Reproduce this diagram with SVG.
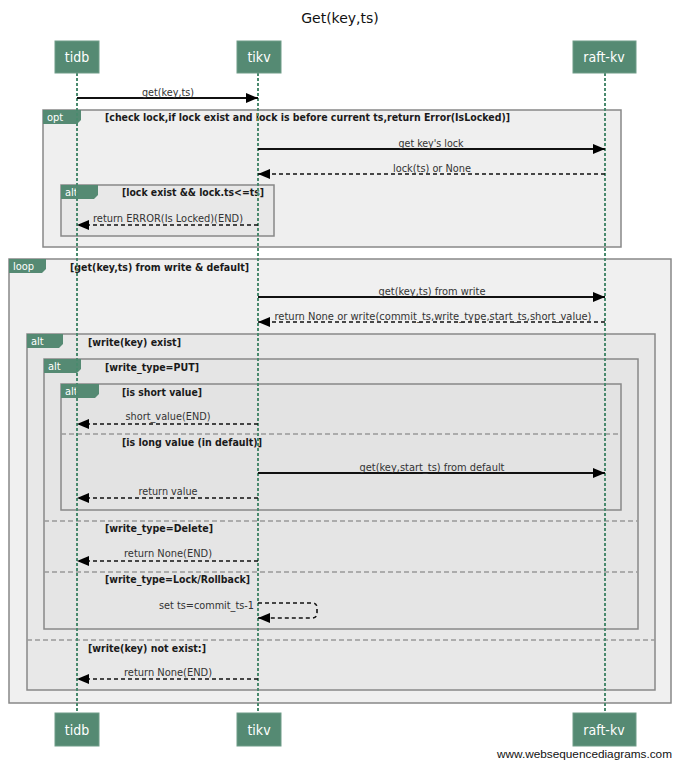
<svg xmlns="http://www.w3.org/2000/svg" width="680" height="767" viewBox="0 0 680 767">
<defs>
<style>
.bg{fill:#ffffff}
.pbox{fill:#558a73;stroke:#6f9c88;stroke-width:1}
.ptxt{font-family:"DejaVu Sans Condensed","DejaVu Sans",sans-serif;font-size:14px;fill:#ffffff;text-anchor:middle}
.life{stroke:#4a8a6e;stroke-width:2;stroke-dasharray:3,2;fill:none}
.frame{stroke:#888888;stroke-width:1.5}
.tab{fill:#558a73}
.tabtxt{font-family:"DejaVu Sans Condensed","DejaVu Sans",sans-serif;font-size:11px;fill:#ffffff}
.guard{font-family:"DejaVu Sans Condensed","DejaVu Sans",sans-serif;font-size:10.5px;font-weight:bold;fill:#1a1a1a}
.sep{stroke:#999999;stroke-width:1.5;stroke-dasharray:5,3;fill:none}
.msg{stroke:#111111;stroke-width:1.8;fill:none}
.ret{stroke:#111111;stroke-width:1.6;stroke-dasharray:4,3;fill:none}
.mtxt{font-family:"DejaVu Sans Condensed","DejaVu Sans",sans-serif;font-size:10px;fill:#333333;text-anchor:middle}
.title{font-family:"DejaVu Sans",sans-serif;font-size:14px;fill:#111111;text-anchor:middle}
.foot{font-family:"Liberation Sans",sans-serif;font-size:11px;fill:#111111;text-anchor:end}
</style>
<marker id="ah" viewBox="0 0 12 10" refX="12" refY="5" markerWidth="12" markerHeight="10" markerUnits="userSpaceOnUse" orient="auto">
<path d="M0,0 L12,5 L0,10 Z" fill="#000000"/>
</marker>
</defs>
<rect class="bg" x="0" y="0" width="680" height="767"/>
<text class="title" x="340" y="23">Get(key,ts)</text>

<g id="frames">
<g id="opt-frame">
<rect class="frame" x="43" y="110" width="578" height="137" fill="#efefef"/>
<path class="tab" d="M43,110 H81 V120 L77,124 H43 Z"/>
<text class="tabtxt" x="47" y="121">opt</text>
<text class="guard" x="105" y="121" textLength="405" lengthAdjust="spacingAndGlyphs">[check lock,if lock exist and lock is before current ts,return Error(IsLocked)]</text>
<rect class="frame" x="61" y="185" width="213" height="51" fill="#e8e8e8"/>
<path class="tab" d="M61,185 H98 V195 L94,199 H61 Z"/>
<text class="tabtxt" x="65" y="196">alt</text>
<text class="guard" x="122" y="196" textLength="142" lengthAdjust="spacingAndGlyphs">[lock exist &amp;&amp; lock.ts&lt;=ts]</text>
</g>
<g id="loop-frame">
<rect class="frame" x="9" y="259" width="662" height="444" fill="#f0f0f0"/>
<path class="tab" d="M9,259 H46 V269 L42,273 H9 Z"/>
<text class="tabtxt" x="13" y="270">loop</text>
<text class="guard" x="70" y="271" textLength="179" lengthAdjust="spacingAndGlyphs">[get(key,ts) from write &amp; default]</text>
</g>
<g id="alt-exist">
<rect class="frame" x="27" y="334" width="628" height="356" fill="#e8e8e8"/>
<path class="tab" d="M27,334 H63 V344 L59,348 H27 Z"/>
<text class="tabtxt" x="31" y="345">alt</text>
<text class="guard" x="88" y="346" textLength="93" lengthAdjust="spacingAndGlyphs">[write(key) exist]</text>
<line class="sep" x1="27" y1="640" x2="655" y2="640"/>
<text class="guard" x="88" y="652" textLength="118" lengthAdjust="spacingAndGlyphs">[write(key) not exist:]</text>
</g>
<g id="alt-type">
<rect class="frame" x="44" y="359" width="594" height="270" fill="#e5e5e5"/>
<path class="tab" d="M44,359 H81 V369 L77,373 H44 Z"/>
<text class="tabtxt" x="48" y="370">alt</text>
<text class="guard" x="105" y="371" textLength="94" lengthAdjust="spacingAndGlyphs">[write_type=PUT]</text>
<line class="sep" x1="44" y1="521" x2="638" y2="521"/>
<text class="guard" x="105" y="532" textLength="108" lengthAdjust="spacingAndGlyphs">[write_type=Delete]</text>
<line class="sep" x1="44" y1="572" x2="638" y2="572"/>
<text class="guard" x="105" y="583" textLength="145" lengthAdjust="spacingAndGlyphs">[write_type=Lock/Rollback]</text>
</g>
<g id="alt-value">
<rect class="frame" x="61" y="384" width="560" height="126" fill="#e3e3e3"/>
<path class="tab" d="M61,384 H99 V394 L95,398 H61 Z"/>
<text class="tabtxt" x="65" y="395">alt</text>
<text class="guard" x="122" y="396" textLength="80" lengthAdjust="spacingAndGlyphs">[is short value]</text>
<line class="sep" x1="61" y1="434" x2="621" y2="434"/>
<text class="guard" x="122" y="446" textLength="140" lengthAdjust="spacingAndGlyphs">[is long value (in default)]</text>
</g>
</g>

<g id="lifelines">
<line class="life" x1="77" y1="73" x2="77" y2="713"/>
<line class="life" x1="258" y1="73" x2="258" y2="713"/>
<line class="life" x1="605" y1="73" x2="605" y2="713"/>
</g>

<g id="node-tidb">
<rect class="pbox" x="55" y="41" width="44" height="32"/>
<text class="ptxt" x="77" y="62">tidb</text>
<rect class="pbox" x="55" y="713" width="44" height="33"/>
<text class="ptxt" x="77" y="735">tidb</text>
</g>
<g id="node-tikv">
<rect class="pbox" x="237" y="41" width="44" height="32"/>
<text class="ptxt" x="259" y="62">tikv</text>
<rect class="pbox" x="237" y="713" width="44" height="33"/>
<text class="ptxt" x="259" y="735">tikv</text>
</g>
<g id="node-raft-kv">
<rect class="pbox" x="573" y="41" width="63" height="32"/>
<text class="ptxt" x="604" y="62">raft-kv</text>
<rect class="pbox" x="573" y="713" width="63" height="33"/>
<text class="ptxt" x="604" y="735">raft-kv</text>
</g>

<g id="connectors">
<line class="msg" x1="77" y1="98" x2="258" y2="98" marker-end="url(#ah)"/>
<text class="mtxt" x="168" y="96" textLength="52" lengthAdjust="spacingAndGlyphs">get(key,ts)</text>

<line class="msg" x1="258" y1="149" x2="605" y2="149" marker-end="url(#ah)"/>
<text class="mtxt" x="431" y="147" textLength="65" lengthAdjust="spacingAndGlyphs">get key's lock</text>
<line class="ret" x1="605" y1="174" x2="258" y2="174" marker-end="url(#ah)"/>
<text class="mtxt" x="432" y="172" textLength="78" lengthAdjust="spacingAndGlyphs">lock(ts) or None</text>
<line class="ret" x1="258" y1="225" x2="77" y2="225" marker-end="url(#ah)"/>
<text class="mtxt" x="168" y="222" textLength="150" lengthAdjust="spacingAndGlyphs">return ERROR(Is Locked)(END)</text>

<line class="msg" x1="258" y1="297" x2="605" y2="297" marker-end="url(#ah)"/>
<text class="mtxt" x="432" y="295" textLength="107" lengthAdjust="spacingAndGlyphs">get(key,ts) from write</text>
<line class="ret" x1="605" y1="322" x2="258" y2="322" marker-end="url(#ah)"/>
<text class="mtxt" x="433" y="320" textLength="317" lengthAdjust="spacingAndGlyphs">return None or write(commit_ts,write_type,start_ts,short_value)</text>

<line class="ret" x1="258" y1="424" x2="77" y2="424" marker-end="url(#ah)"/>
<text class="mtxt" x="168" y="420" textLength="85" lengthAdjust="spacingAndGlyphs">short_value(END)</text>
<line class="msg" x1="258" y1="473" x2="605" y2="473" marker-end="url(#ah)"/>
<text class="mtxt" x="432" y="471" textLength="145" lengthAdjust="spacingAndGlyphs">get(key,start_ts) from default</text>
<line class="ret" x1="258" y1="498" x2="77" y2="498" marker-end="url(#ah)"/>
<text class="mtxt" x="168" y="495" textLength="59" lengthAdjust="spacingAndGlyphs">return value</text>

<line class="ret" x1="258" y1="561" x2="77" y2="561" marker-end="url(#ah)"/>
<text class="mtxt" x="168" y="557" textLength="88" lengthAdjust="spacingAndGlyphs">return None(END)</text>

<path class="ret" d="M258,603 H312 Q317,603 317,608 V613 Q317,618 312,618 H258" marker-end="url(#ah)"/>
<text class="mtxt" x="254" y="609" style="text-anchor:end" textLength="95" lengthAdjust="spacingAndGlyphs">set ts=commit_ts-1</text>

<line class="ret" x1="258" y1="679" x2="77" y2="679" marker-end="url(#ah)"/>
<text class="mtxt" x="168" y="676" textLength="88" lengthAdjust="spacingAndGlyphs">return None(END)</text>
</g>

<text class="foot" x="672" y="758" textLength="175" lengthAdjust="spacingAndGlyphs">www.websequencediagrams.com</text>
</svg>
